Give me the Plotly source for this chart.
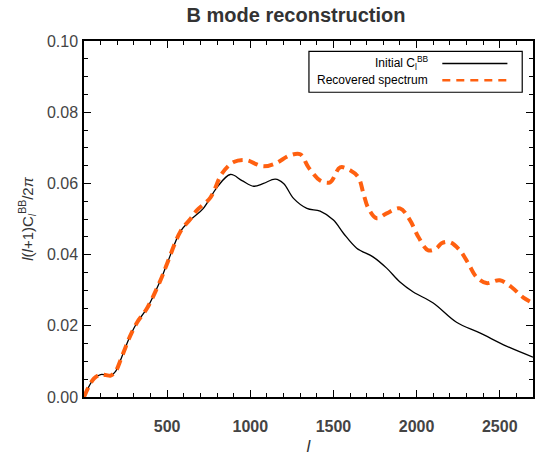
import plotly.graph_objects as go

# Multipole values and spectra
ell_initial = [0, 30, 60, 100, 130, 160, 190, 220, 250, 280, 320, 380, 460, 500,
               580, 640, 718, 800, 880, 950, 1020, 1080, 1150, 1200, 1260, 1340,
               1420, 1500, 1560, 1640, 1740, 1820, 1900, 1980, 2100, 2240, 2380,
               2540, 2700]
cl_initial = [0.0, 0.0030, 0.0052, 0.0063, 0.0062, 0.0060, 0.0072, 0.0104, 0.0140,
              0.0174, 0.0210, 0.0250, 0.0328, 0.0375, 0.0465, 0.0497, 0.0530,
              0.0589, 0.0625, 0.0608, 0.0592, 0.0600, 0.0612, 0.0600, 0.0558,
              0.0530, 0.0522, 0.0497, 0.0460, 0.0418, 0.0393, 0.0362, 0.0323,
              0.0295, 0.0264, 0.0210, 0.0180, 0.0143, 0.0112]

ell_recovered = [0, 30, 60, 100, 130, 160, 190, 220, 250, 280, 320, 380, 460, 500,
                 580, 640, 680, 760, 830, 900, 980, 1030, 1080, 1150, 1240, 1300,
                 1350, 1420, 1480, 1540, 1600, 1650, 1680, 1710, 1760, 1820, 1900,
                 1960, 2010, 2070, 2120, 2150, 2200, 2260, 2310, 2360, 2420, 2500,
                 2570, 2640, 2700]
cl_recovered = [0.0, 0.0030, 0.0052, 0.0063, 0.0062, 0.0060, 0.0072, 0.0104, 0.0140,
                0.0174, 0.0210, 0.0250, 0.0328, 0.0375, 0.0465, 0.0500, 0.0525,
                0.0560, 0.0628, 0.0660, 0.0665, 0.0655, 0.0648, 0.0656, 0.0679,
                0.0682, 0.0645, 0.0608, 0.0603, 0.0645, 0.0637, 0.0617, 0.0572,
                0.0530, 0.0502, 0.0516, 0.0530, 0.0497, 0.0450, 0.0412, 0.0418,
                0.0432, 0.0435, 0.0412, 0.0376, 0.0337, 0.0320, 0.0328, 0.0309,
                0.0280, 0.0264]

x_ticks = [500, 1000, 1500, 2000, 2500]
y_ticks = [0.00, 0.02, 0.04, 0.06, 0.08, 0.10]

orange = '#FF6010'
txt = '#333333'

W, H = 544, 459

fig = go.Figure()

fig.add_trace(go.Scatter(x=ell_initial, y=cl_initial, mode='lines',
                         line=dict(color='black', width=1.3, shape='spline'),
                         showlegend=False))
fig.add_trace(go.Scatter(x=ell_recovered, y=cl_recovered, mode='lines',
                         line=dict(color=orange, width=4, shape='spline',
                                   dash='10px,6px'),
                         showlegend=False))

# hand-made legend box (text left of the line sample, like the original)
fig.add_shape(type='rect', xref='paper', yref='paper', x0=0.501, x1=0.976,
              y0=0.856, y1=0.971, line=dict(color='black', width=1.2),
              fillcolor='white')
fig.add_shape(type='line', xref='paper', yref='paper', x0=0.798, x1=0.943,
              y0=0.937, y1=0.937, line=dict(color='black', width=1.5))
fig.add_shape(type='line', xref='paper', yref='paper', x0=0.798, x1=0.943,
              y0=0.890, y1=0.890, line=dict(color=orange, width=2.5, dash='8px,6px'))
fig.add_annotation(xref='paper', yref='paper', x=0.771, y=0.937, xanchor='right',
                   yanchor='middle', showarrow=False,
                   text='Initial C<sub>l</sub><sup>BB</sup>',
                   font=dict(family='Liberation Sans', size=12, color='black'))
fig.add_annotation(xref='paper', yref='paper', x=0.771, y=0.890, xanchor='right',
                   yanchor='middle', showarrow=False, text='Recovered spectrum',
                   font=dict(family='Liberation Sans', size=12, color='black'))

fig.update_layout(
    width=W, height=H,
    margin=dict(l=84, r=11, t=41, b=62, autoexpand=False),
    paper_bgcolor='white', plot_bgcolor='white',
    font=dict(family='Liberation Sans', color=txt),
    title=dict(text='<b>B mode reconstruction</b>', x=296 / W, xref='container',
               xanchor='center', y=1 - 15 / H, yanchor='middle',
               font=dict(size=20, color=txt), automargin=False),
)

fig.update_xaxes(
    range=[0, 2700], tickvals=x_ticks, ticktext=['<b>%d</b>' % v for v in x_ticks],
    ticks='inside', ticklen=7, tickwidth=1.2, tickcolor='black',
    minor=dict(dtick=100, ticks='inside', ticklen=4, tickcolor='black', tickwidth=1),
    showline=True, linecolor='black', linewidth=1.5, mirror='ticks',
    showgrid=False, zeroline=False, ticklabelstandoff=14, automargin=False,
    tickfont=dict(size=16, color='#444444'),
    title=dict(text='<i>l</i>', font=dict(size=17, color=txt), standoff=6),
)
fig.update_yaxes(
    range=[0, 0.1], tickvals=y_ticks, tickformat='.2f',
    ticks='inside', ticklen=7, tickwidth=1.2, tickcolor='black',
    minor=dict(dtick=0.005, ticks='inside', ticklen=4, tickcolor='black', tickwidth=1),
    showline=True, linecolor='black', linewidth=1.5, mirror='ticks',
    showgrid=False, zeroline=False, ticklabelstandoff=1, automargin=False,
    tickfont=dict(size=16, color='#444444'),
    title=dict(text='<i>l</i>(<i>l</i>+1)C<sub><i>l</i></sub><sup>BB</sup>/2<i>π</i>',
               font=dict(size=15, color=txt), standoff=10),
)

# drop the page's default body margin so the figure sits at the top-left corner
fig.write_html('out.html', config={'displayModeBar': False},
               post_script="document.body.style.margin = '0';")
